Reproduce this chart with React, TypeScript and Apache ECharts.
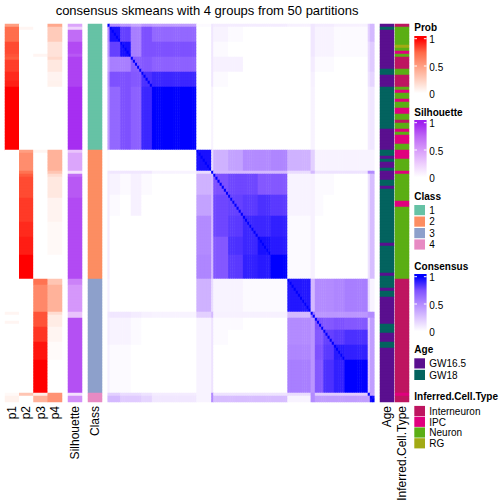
import React, { useEffect, useRef } from "react";
import * as echarts from "echarts";

// ---------------- data (rows listed top to bottom, run-length encoded: [value, count]) ----------------
const TITLE = "consensus skmeans with 4 groups from 50 partitions";
const PROB_COLUMNS = ["p1", "p2", "p3", "p4"];

const p1Runs: [number, number][] = [
  [0.5, 1], [0.72, 5], [0.82, 4], [0.8, 1], [0.78, 1], [0.85, 4], [0.9, 3], [0.92, 2], [1, 21],
  [0, 54], [0.05, 1], [0, 2], [0.05, 1], [0, 23], [0.03, 1], [0.07, 2],
];
const p2Runs: [number, number][] = [
  [0, 1], [0.05, 1], [0, 40], [0.5, 1], [0.58, 6], [0.7, 1], [0.78, 1], [0.82, 7], [0.86, 8],
  [0.9, 5], [0.93, 6], [1, 8], [0, 38], [0.3, 1], [0, 2],
];
const p3Runs: [number, number][] = [
  [0, 10], [0.05, 1], [0, 31], [0.05, 1], [0, 42], [0.7, 2], [0.6, 9], [0.8, 5], [0.87, 5],
  [0.95, 6], [1, 11], [0.1, 1], [0.4, 2],
];
const p4Runs: [number, number][] = [
  [0.45, 1], [0.27, 5], [0.15, 5], [0.2, 1], [0.12, 4], [0.06, 3], [0.07, 2], [0, 21],
  [0.4, 7], [0.3, 1], [0.18, 1], [0.12, 7], [0.06, 8], [0.03, 11], [0, 8],
  [0.3, 2], [0.4, 9], [0.18, 1], [0.1, 4], [0.05, 5], [0.02, 6], [0, 11],
  [0.55, 3],
];
const silhouetteRuns: [number, number][] = [
  [0.45, 1], [0.22, 1], [0.72, 4], [0.85, 4], [0.8, 1], [0.88, 10], [0.95, 21],
  [0.3, 1], [0.45, 6], [0.15, 1], [0.72, 1], [0.8, 7], [0.85, 27],
  [0.62, 2], [0.52, 9], [0.3, 2], [0.83, 25],
  [0.15, 1], [0.55, 2],
];
const CLASS_LEVELS = ["1", "2", "3", "4"];
const CLASS_COLORS = ["#66C2A5", "#FC8D62", "#8DA0CB", "#E78AC3"];
const classRuns: [string, number][] = [["1", 42], ["2", 43], ["3", 38], ["4", 3]];

const AGE_LEVELS = ["GW16.5", "GW18"];
const AGE_COLORS = ["#5A0F8F", "#03635F"];
const ageRuns: [string, number][] = [
  ["GW16.5", 1], ["GW18", 1], ["GW16.5", 13], ["GW18", 2], ["GW16.5", 4], ["GW18", 14], ["GW16.5", 7],
  ["GW18", 2], ["GW16.5", 1], ["GW18", 1], ["GW16.5", 2], ["GW18", 1], ["GW16.5", 3], ["GW18", 2],
  ["GW16.5", 1], ["GW18", 18], ["GW16.5", 1], ["GW18", 9], ["GW16.5", 1], ["GW18", 4], ["GW16.5", 1],
  ["GW18", 2], ["GW16.5", 9], ["GW18", 3], ["GW16.5", 3], ["GW18", 2], ["GW16.5", 18],
];

const CELL_LEVELS = ["Interneuron", "IPC", "Neuron", "RG"];
const CELL_COLORS = ["#BE1560", "#E0007E", "#5BAE14", "#A2AA14"];
const cellRuns: [string, number][] = [
  ["Interneuron", 1], ["Neuron", 6], ["RG", 1], ["Neuron", 1], ["IPC", 1], ["Neuron", 1],
  ["Interneuron", 4], ["Neuron", 2], ["Interneuron", 4], ["Neuron", 1], ["IPC", 1], ["Neuron", 2],
  ["IPC", 1], ["Neuron", 2], ["IPC", 2], ["Neuron", 2], ["Interneuron", 1], ["Neuron", 2], ["IPC", 1],
  ["Neuron", 1], ["IPC", 3], ["Neuron", 2], ["IPC", 3], ["Neuron", 4], ["IPC", 1], ["Neuron", 9],
  ["IPC", 2], ["Neuron", 24], ["Interneuron", 38], ["IPC", 1], ["Interneuron", 2],
];

// consensus matrix: samples grouped in consecutive sub-blocks; value between sub-blocks (lower triangle)
const consensusBlockSizes = [1, 5, 5, 5, 5, 21, 7, 1, 7, 7, 7, 6, 8, 11, 2, 4, 5, 5, 11, 1, 2];
const consensusBlocks: number[][] = [
  [1],
  [0.5, 0.95],
  [0.45, 0.8, 0.95],
  [0.38, 0.55, 0.55, 0.7],
  [0.45, 0.75, 0.75, 0.72, 0.85],
  [0.42, 0.65, 0.75, 0.68, 0.88, 1],
  [0.02, 0, 0, 0, 0, 0, 0.95],
  [0.1, 0.1, 0.1, 0.1, 0.1, 0.05, 0.15, 1],
  [0.08, 0.05, 0.02, 0.06, 0.02, 0, 0.33, 0.3, 0.75],
  [0.08, 0.02, 0, 0.06, 0, 0, 0.4, 0.3, 0.78, 0.8],
  [0.08, 0, 0, 0, 0, 0, 0.5, 0.3, 0.78, 0.82, 0.88],
  [0.08, 0, 0, 0, 0, 0, 0.5, 0.3, 0.72, 0.85, 0.88, 0.95],
  [0.08, 0, 0, 0, 0, 0, 0.52, 0.3, 0.72, 0.82, 0.9, 0.92, 1],
  [0.06, 0, 0, 0, 0, 0, 0.33, 0.15, 0.05, 0.05, 0.02, 0.02, 0.02, 0.93],
  [0.1, 0.1, 0.1, 0.08, 0.06, 0.05, 0.2, 0.3, 0.06, 0.06, 0.06, 0.06, 0.06, 0.3, 0.6],
  [0.08, 0.05, 0.05, 0.02, 0, 0, 0.05, 0.12, 0.02, 0.02, 0, 0, 0, 0.5, 0.45, 0.75],
  [0.08, 0.05, 0.05, 0.02, 0, 0, 0.05, 0.12, 0.02, 0, 0, 0, 0, 0.5, 0.45, 0.72, 0.8],
  [0.06, 0.02, 0.02, 0, 0, 0, 0.05, 0.12, 0, 0, 0, 0, 0, 0.52, 0.45, 0.75, 0.82, 0.92],
  [0.06, 0.02, 0.02, 0, 0, 0, 0.05, 0.12, 0, 0, 0, 0, 0, 0.55, 0.45, 0.72, 0.85, 0.9, 1],
  [0.2, 0.2, 0.15, 0.15, 0.12, 0.08, 0.05, 0.5, 0.12, 0.12, 0.12, 0.12, 0.12, 0.15, 0.5, 0.22, 0.22, 0.22, 0.22, 1],
  [0.3, 0.3, 0.22, 0.22, 0.18, 0.1, 0.05, 0.5, 0.28, 0.28, 0.28, 0.28, 0.28, 0.05, 0.5, 0.42, 0.42, 0.42, 0.42, 0.4, 0.95],
];

// colour ramps (white -> colour, sampled in LAB at 0, .25, .5, .75, 1)
const PROB_RAMP = ["#FFFFFF", "#FFCFBF", "#FF9E81", "#FF6846", "#FF0000"];
const SIL_RAMP = ["#FFFFFF", "#EDCDFD", "#D79BFA", "#BE66F5", "#A020F0"];
const CONS_RAMP = ["#FFFFFF", "#DCC4FF", "#B38BFF", "#7E51FF", "#0000FF"];

// ---------------- helpers ----------------
function expand<T>(runs: [T, number][]): T[] {
  const out: T[] = [];
  runs.forEach(([v, n]) => {
    for (let k = 0; k < n; k++) out.push(v);
  });
  return out;
}

const FONT = "'Liberation Sans', Arial, Helvetica, sans-serif";

function buildOption() {
  const p = [expand(p1Runs), expand(p2Runs), expand(p3Runs), expand(p4Runs)];
  const sil = expand(silhouetteRuns);
  const cls = expand(classRuns);
  const age = expand(ageRuns);
  const cell = expand(cellRuns);
  const N = cls.length;
  const rowNames = Array.from({ length: N }, (_, i) => "S" + (i + 1));

  const probData: number[][] = [];
  p.forEach((col, c) => col.forEach((v, i) => probData.push([c, i, v])));
  const silData = sil.map((v, i) => [0, i, v]);
  const classData = cls.map((v, i) => [0, i, CLASS_LEVELS.indexOf(v)]);
  const ageData = age.map((v, i) => [0, i, AGE_LEVELS.indexOf(v)]);
  const cellData = cell.map((v, i) => [0, i, CELL_LEVELS.indexOf(v)]);

  const segOf: number[] = [];
  consensusBlockSizes.forEach((n, k) => {
    for (let t = 0; t < n; t++) segOf.push(k);
  });
  const blockVal = (a: number, b: number) => (a >= b ? consensusBlocks[a][b] : consensusBlocks[b][a]);
  const consData: number[][] = [];
  for (let i = 0; i < N; i++) {
    for (let j = 0; j < N; j++) {
      consData.push([j, i, i === j ? 1 : blockVal(segOf[i], segOf[j])]);
    }
  }

  const TOP = 24;
  const H = 378;
  const grids = [
    { left: 5, width: 57 },
    { left: 68, width: 14 },
    { left: 88, width: 14 },
    { left: 107.7, width: 266.6 },
    { left: 380, width: 14 },
    { left: 395, width: 14 },
  ].map((g) => ({ ...g, top: TOP, height: H, containLabel: false, outerBoundsMode: "none" }));

  const mkX = (gridIndex: number, data: string[], show: boolean) => ({
    type: "category",
    gridIndex,
    data,
    axisLine: { show: false },
    axisTick: { show: false },
    splitLine: { show: false },
    axisLabel: show
      ? { show: true, rotate: 90, interval: 0, margin: 4, fontSize: 12, color: "#000", fontFamily: FONT }
      : { show: false },
  });
  const mkY = (gridIndex: number) => ({
    type: "category",
    gridIndex,
    data: rowNames,
    inverse: true,
    show: false,
  });

  const heat = (idx: number, data: number[][]) => ({
    type: "heatmap",
    xAxisIndex: idx,
    yAxisIndex: idx,
    data,
    progressive: 0,
    silent: true,
    emphasis: { disabled: true },
    itemStyle: { borderWidth: 0 },
  });

  // ---------- legends drawn as graphics ----------
  const LX = 414.3;
  const TX = 429.3;
  const txt = (text: string, x: number, y: number, opts: any = {}) => ({
    type: "text",
    x,
    y,
    silent: true,
    style: {
      text,
      fill: "#000",
      fontSize: 10,
      fontFamily: FONT,
      align: "left",
      verticalAlign: "middle",
      ...opts,
    },
  });
  const gradLegend = (title: string, titleY: number, top: number, ramp: string[]) => {
    const barH = 60;
    const y1 = top + 2.7;
    const y0 = top + 57.3;
    const o = (y: number) => (y - top) / barH;
    const stops = [
      { offset: 0, color: ramp[4] },
      { offset: o(y1), color: ramp[4] },
      { offset: o(y1 + (y0 - y1) * 0.25), color: ramp[3] },
      { offset: o(y1 + (y0 - y1) * 0.5), color: ramp[2] },
      { offset: o(y1 + (y0 - y1) * 0.75), color: ramp[1] },
      { offset: o(y0), color: ramp[0] },
      { offset: 1, color: ramp[0] },
    ];
    const els: any[] = [
      txt(title, LX, titleY, { fontWeight: "bold" }),
      {
        type: "rect",
        silent: true,
        shape: { x: LX, y: top, width: 12.3, height: barH },
        style: { fill: new echarts.graphic.LinearGradient(0, 0, 0, 1, stops) },
      },
    ];
    [y1, (y1 + y0) / 2, y0].forEach((y) => {
      els.push({ type: "line", silent: true, shape: { x1: LX, y1: y, x2: LX + 2.7, y2: y }, style: { stroke: "#fff", lineWidth: 1 } });
      els.push({ type: "line", silent: true, shape: { x1: LX + 9.6, y1: y, x2: LX + 12.3, y2: y }, style: { stroke: "#fff", lineWidth: 1 } });
    });
    els.push(txt("1", TX, y1 + 1));
    els.push(txt("0.5", TX, (y1 + y0) / 2 + 1));
    els.push(txt("0", TX, y0 + 1));
    return els;
  };
  const discLegend = (title: string, titleY: number, tops: number[], labels: string[], colors: string[]) => {
    const els: any[] = [txt(title, LX, titleY, { fontWeight: "bold" })];
    labels.forEach((l, k) => {
      els.push({
        type: "rect",
        silent: true,
        shape: { x: LX, y: tops[k], width: 10.7, height: 10.2 },
        style: { fill: colors[k] },
      });
      els.push(txt(l, TX, tops[k] + 5.3));
    });
    return els;
  };

  const graphics: any[] = [
    {
      type: "text",
      x: 207,
      y: 10.5,
      silent: true,
      style: { text: TITLE, fill: "#000", fontSize: 13, fontFamily: FONT, align: "center", verticalAlign: "middle" },
    },
    ...gradLegend("Prob", 27.5, 36, PROB_RAMP),
    ...gradLegend("Silhouette", 112, 120, SIL_RAMP),
    ...discLegend("Class", 196, [205, 216.5, 228, 239.4], CLASS_LEVELS, CLASS_COLORS),
    ...gradLegend("Consensus", 266, 274, CONS_RAMP),
    ...discLegend("Age", 349.5, [358.3, 369.8], AGE_LEVELS, AGE_COLORS),
    ...discLegend("Inferred.Cell.Type", 396, [405.9, 416.7, 427.4, 438.2], CELL_LEVELS, CELL_COLORS),
  ];

  return {
    animation: false,
    backgroundColor: "#ffffff",
    grid: grids,
    xAxis: [
      mkX(0, PROB_COLUMNS, true),
      mkX(1, ["Silhouette"], true),
      mkX(2, ["Class"], true),
      mkX(3, rowNames, false),
      mkX(4, ["Age"], true),
      mkX(5, ["Inferred.Cell.Type"], true),
    ],
    yAxis: [0, 1, 2, 3, 4, 5].map(mkY),
    visualMap: [
      { type: "continuous", show: false, seriesIndex: 0, dimension: 2, min: 0, max: 1, inRange: { color: PROB_RAMP } },
      { type: "continuous", show: false, seriesIndex: 1, dimension: 2, min: 0, max: 1, inRange: { color: SIL_RAMP } },
      {
        type: "piecewise",
        show: false,
        seriesIndex: 2,
        dimension: 2,
        pieces: CLASS_COLORS.map((c, k) => ({ value: k, color: c })),
      },
      { type: "continuous", show: false, seriesIndex: 3, dimension: 2, min: 0, max: 1, inRange: { color: CONS_RAMP } },
      {
        type: "piecewise",
        show: false,
        seriesIndex: 4,
        dimension: 2,
        pieces: AGE_COLORS.map((c, k) => ({ value: k, color: c })),
      },
      {
        type: "piecewise",
        show: false,
        seriesIndex: 5,
        dimension: 2,
        pieces: CELL_COLORS.map((c, k) => ({ value: k, color: c })),
      },
    ],
    series: [
      heat(0, probData),
      heat(1, silData),
      heat(2, classData),
      heat(3, consData),
      heat(4, ageData),
      heat(5, cellData),
    ],
    graphic: { elements: graphics },
  };
}

export default function App() {
  const ref = useRef<HTMLDivElement>(null);
  useEffect(() => {
    document.body.style.margin = "0";
    const chart = echarts.init(ref.current as HTMLDivElement, null, { renderer: "svg" });
    chart.setOption(buildOption() as any);
    return () => {
      chart.dispose();
    };
  }, []);
  return (
    <div
      ref={ref}
      style={{ position: "absolute", left: 0, top: 0, width: 504, height: 504, background: "#ffffff" }}
    />
  );
}
